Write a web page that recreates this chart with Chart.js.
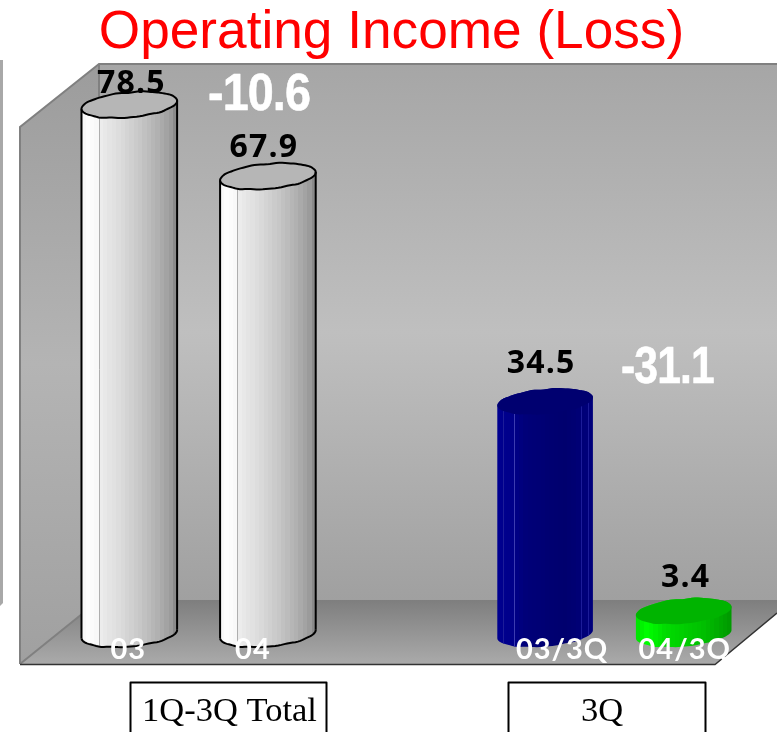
<!DOCTYPE html>
<html><head><meta charset="utf-8">
<style>html,body{margin:0;padding:0;background:#fff}canvas{display:block}</style>
<script src="https://cdn.jsdelivr.net/npm/chart.js@4"></script>
</head><body><canvas id="c" width="777" height="732"></canvas>
<script>
const categories = ['03', '04', '', '03/3Q', '04/3Q'];
const values = [78.5, 67.9, null, 34.5, 3.4];
const valueLabels = ['78.5', '67.9', '', '34.5', '3.4'];
const barColors = ['#d8d8d8', '#d8d8d8', '#000000', '#000078', '#00c800'];
const differences = ['-10.6', '-31.1'];
const groups = ['1Q-3Q Total', '3Q'];
const titleText = 'Operating Income (Loss)';

const SHADES = {
  '#d8d8d8': {top:'#b6b6b6', line:'#000', stripes:[[.18,'#aeaeae']], stops:[[0,'#f0f0f0'],[.04,'#ffffff'],[.16,'#f8f8f8'],[.19,'#ededed'],[.42,'#dadada'],[.62,'#c6c6c6'],[.8,'#b0b0b0'],[.93,'#9c9c9c'],[1,'#828282']]},
  '#000078': {top:'#000070', line:null, stripes:[[.06,'#1c1c98'],[.18,'#3c3cb0'],[.87,'#1c1c98'],[.95,'#1c1c98']], stops:[[0,'#000090'],[.17,'#000088'],[.3,'#000078'],[.7,'#00006e'],[1,'#00007c']]},
  '#00c800': {top:'#00b400', line:null, stripes:[], stops:[[0,'#00e000'],[.12,'#00ff00'],[.3,'#00dc00'],[.7,'#00c000'],[1,'#009800']]}
};
const BANDS = 22;
function hex(c){return [1,3,5].map(i=>parseInt(c.substr(i,2),16));}
function sample(stops,f){
  for(let i=1;i<stops.length;i++){
    if(f<=stops[i][0]){
      const u=(f-stops[i-1][0])/(stops[i][0]-stops[i-1][0]);
      const a=hex(stops[i-1][1]),b=hex(stops[i][1]);
      return 'rgb('+a.map((v,k)=>Math.round(v+(b[k]-v)*u)).join(',')+')';
    }
  }
  return stops[stops.length-1][1];
}

function wobblePts(cx, cy, a, b, rot, from, to, n) {
  const pts = [];
  for (let i = 0; i <= n; i++) {
    const t = from + (to - from) * i / n;
    const w = 1 + 0.025 * Math.sin(t * 9) + 0.018 * Math.cos(t * 14);
    const ex = a * Math.cos(t), ey = b * w * Math.sin(t);
    pts.push([cx + ex * Math.cos(rot) - ey * Math.sin(rot), cy + ex * Math.sin(rot) + ey * Math.cos(rot)]);
  }
  return pts;
}
function trace(ctx, pts, start) {
  pts.forEach((p, i) => (i === 0 && start) ? ctx.moveTo(p[0], p[1]) : ctx.lineTo(p[0], p[1]));
}

function drawCylinder(ctx, el, color) {
  const s = SHADES[color];
  const a = el.width / 2, b = 12.5, rot = -0.09;
  const cx = el.x;
  const lower = wobblePts(cx, el.base, a, b, rot, Math.PI, 0, 48);
  const topAll = wobblePts(cx, el.y, a, b, rot, 0, Math.PI * 2, 96);
  const upperRev = wobblePts(cx, el.y, a, b, rot, 0, -Math.PI, 48);
  ctx.save();
  const g = ctx.createLinearGradient(cx - a, 0, cx + a, 0);
  for (let k = 0; k < BANDS; k++) {
    const col = sample(s.stops, (k + .5) / BANDS);
    g.addColorStop(k / BANDS, col);
    g.addColorStop((k + 1) / BANDS, col);
  }
  ctx.beginPath();
  trace(ctx, lower, true);
  trace(ctx, upperRev, false);
  ctx.closePath();
  ctx.fillStyle = g;
  ctx.fill();
  ctx.save();
  ctx.clip();
  ctx.lineWidth = 1;
  s.stripes.forEach(st => {
    const x = Math.round(cx - a + st[0] * el.width) + .5;
    ctx.strokeStyle = st[1];
    ctx.beginPath();
    ctx.moveTo(x, el.y - 20);
    ctx.lineTo(x, el.base + 20);
    ctx.stroke();
  });
  ctx.restore();
  ctx.fillStyle = s.top;
  ctx.beginPath();
  trace(ctx, topAll, true);
  ctx.closePath();
  ctx.fill();
  if (s.line) {
    ctx.strokeStyle = s.line;
    ctx.lineWidth = 2;
    ctx.stroke();
    ctx.beginPath();
    trace(ctx, lower, true);
    ctx.stroke();
    ctx.beginPath();
    ctx.moveTo(lower[0][0], lower[0][1]);
    ctx.lineTo(upperRev[48][0], upperRev[48][1]);
    ctx.moveTo(lower[48][0], lower[48][1]);
    ctx.lineTo(upperRev[0][0], upperRev[0][1]);
    ctx.stroke();
  }
  ctx.restore();
}

function fitText(ctx, t, cx, y, w) {
  const m = ctx.measureText(t).width;
  ctx.save();
  ctx.translate(cx, y);
  ctx.scale(w / m, 1);
  ctx.fillText(t, 0, 0);
  ctx.strokeText(t, 0, 0);
  ctx.restore();
}

const tickShift = [-1, -15, 0, 17, 1];

const box3d = {
  id: 'box3d',
  beforeDraw(chart) {
    const items = chart.scales.x.getLabelItems();
    if (!chart.$shifted) {
      items.forEach((it, i) => { it.options.translation[0] += tickShift[i] || 0; it.options.translation[1] -= 2; });
      chart.$shifted = true;
    }
    const ctx = chart.ctx;
    ctx.save();
    ctx.fillStyle = '#a8a8a8';
    ctx.beginPath();
    ctx.moveTo(0, 60); ctx.lineTo(3, 60); ctx.lineTo(3, 603); ctx.lineTo(0, 606); ctx.closePath(); ctx.fill();
    let g = ctx.createLinearGradient(0, 64, 0, 600);
    g.addColorStop(0, '#a6a6a6'); g.addColorStop(0.5, '#bfbfbf'); g.addColorStop(1, '#a0a0a0');
    ctx.fillStyle = g;
    ctx.fillRect(99, 64, 678, 536);
    g = ctx.createLinearGradient(0, 64, 0, 664);
    g.addColorStop(0, '#9c9c9c'); g.addColorStop(0.5, '#b4b4b4'); g.addColorStop(1, '#a0a0a0');
    ctx.fillStyle = g;
    ctx.beginPath();
    ctx.moveTo(20, 127); ctx.lineTo(99, 64); ctx.lineTo(99, 600); ctx.lineTo(20, 664); ctx.closePath(); ctx.fill();
    g = ctx.createLinearGradient(0, 600, 0, 664);
    g.addColorStop(0, '#7e7e7e'); g.addColorStop(1, '#aaaaaa');
    ctx.fillStyle = g;
    ctx.beginPath();
    ctx.moveTo(20, 664); ctx.lineTo(99, 600); ctx.lineTo(777, 600); ctx.lineTo(777, 613); ctx.lineTo(715, 664); ctx.closePath(); ctx.fill();
    ctx.strokeStyle = '#808080';
    ctx.lineWidth = 2;
    ctx.beginPath();
    ctx.moveTo(20, 664); ctx.lineTo(20, 127); ctx.lineTo(99, 64); ctx.lineTo(777, 64);
    ctx.moveTo(99, 64); ctx.lineTo(99, 100);
    ctx.moveTo(20, 664); ctx.lineTo(82, 614);
    ctx.stroke();
    ctx.strokeStyle = '#333';
    ctx.lineWidth = 1.5;
    ctx.beginPath();
    ctx.moveTo(20, 664.5); ctx.lineTo(715, 664.5); ctx.lineTo(777, 613);
    ctx.stroke();
    ctx.restore();
  },
  beforeDatasetDraw(chart, args) {
    const ctx = chart.ctx;
    chart.getDatasetMeta(args.index).data.forEach((el, i) => {
      if (values[i] !== null) drawCylinder(ctx, el, barColors[i]);
    });
    return false;
  },
  afterDatasetsDraw(chart) {
    const ctx = chart.ctx;
    const meta = chart.getDatasetMeta(0).data;
    const offs = [[2, -12], [-4, -19], [0, 0], [-4, -28], [2, -24]];
    ctx.save();
    ctx.textAlign = 'center';
    ctx.textBaseline = 'alphabetic';
    ctx.fillStyle = '#000';
    ctx.font = 'bold 32px "Open Sans"';
    ctx.letterSpacing = '1.2px';
    valueLabels.forEach((t, i) => {
      if (t) ctx.fillText(t, meta[i].x + offs[i][0], meta[i].y + offs[i][1]);
    });
    ctx.fillStyle = '#fff';
    ctx.strokeStyle = '#fff';
    ctx.lineWidth = 0.6;
    ctx.lineJoin = 'round';
    ctx.font = 'bold 51px "Liberation Sans"';
    ctx.letterSpacing = '-1px';
    fitText(ctx, differences[0], 259, 110, 102);
    fitText(ctx, differences[1], 667.5, 383, 93);
    ctx.letterSpacing = '0px';
    const rects = [[130.5, 682.5, 196], [508.5, 682.5, 197]];
    ctx.font = '34.5px "Liberation Serif"';
    groups.forEach((t, i) => {
      const r = rects[i];
      ctx.fillStyle = '#fff';
      ctx.fillRect(r[0], r[1], r[2], 60);
      ctx.strokeStyle = '#000';
      ctx.lineWidth = 2;
      ctx.strokeRect(r[0], r[1], r[2], 60);
      ctx.fillStyle = '#000';
      ctx.fillText(t, r[0] + r[2] / 2 + (i ? -5 : 1), 721);
    });
    ctx.restore();
    ctx.letterSpacing = '1px';
  },
  afterDraw(chart) { chart.ctx.letterSpacing = '0px'; }
};

new Chart(document.getElementById('c'), {
  type: 'bar',
  data: {
    labels: categories,
    datasets: [{ data: values, backgroundColor: barColors, barThickness: 96 }]
  },
  options: {
    responsive: false,
    animation: false,
    layout: { padding: { left: 30, right: 24, top: 0, bottom: 0 } },
    plugins: {
      legend: { display: false },
      tooltip: { enabled: false },
      title: {
        display: true, text: titleText, color: '#ff0000',
        font: { family: '"Liberation Sans"', size: 53.2, weight: 'normal', lineHeight: 1.034 },
        padding: { top: 6, bottom: 0 }
      }
    },
    scales: {
      x: {
        grid: { display: false, drawTicks: false },
        border: { display: false },
        ticks: { z: 1, color: '#ffffff', autoSkip: false, maxRotation: 0, padding: 0,
                 font: { family: 'Lato', size: 29, weight: '700' } },
        afterFit(s) { s.height = 98; }
      },
      y: {
        min: 0, max: 85,
        grid: { display: false, drawTicks: false },
        border: { display: false },
        ticks: { display: false },
        afterFit(s) { s.width = 30; }
      }
    }
  },
  plugins: [box3d]
});
</script></body></html>
